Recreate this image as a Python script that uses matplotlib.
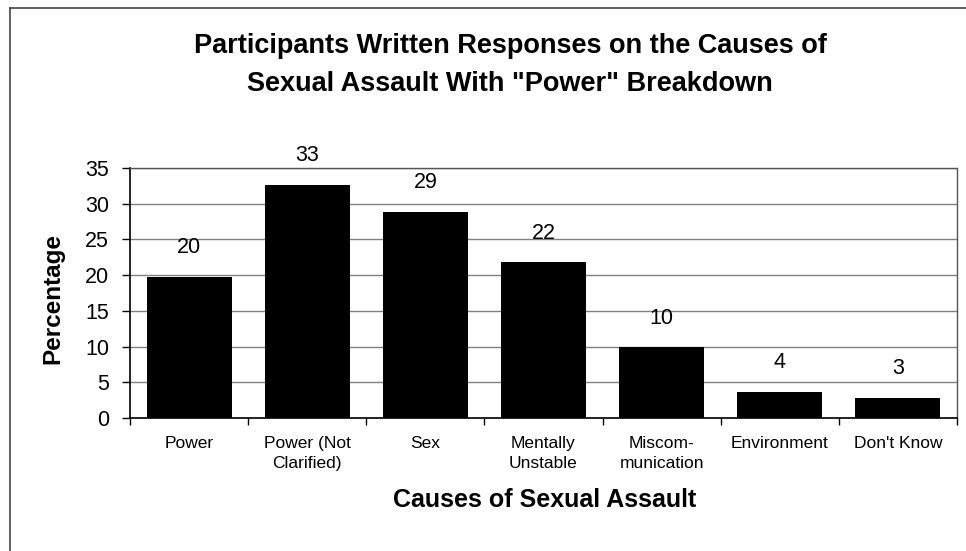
import matplotlib
matplotlib.use("Agg")
import matplotlib.pyplot as plt
from matplotlib.lines import Line2D

plt.rcParams['font.family'] = ['Liberation Sans', 'DejaVu Sans']

categories = ["Power", "Power (Not\nClarified)", "Sex", "Mentally\nUnstable",
              "Miscom-\nmunication", "Environment", "Don't Know"]
values = [19.8, 32.6, 28.9, 21.8, 9.9, 3.7, 2.8]
value_labels = ["20", "33", "29", "22", "10", "4", "3"]
yticks = [0, 5, 10, 15, 20, 25, 30, 35]

W, H = 966, 551
fig = plt.figure(figsize=(W / 100, H / 100), dpi=100)
ax = fig.add_axes([130 / W, 1 - 418 / H, (957 - 130) / W, (418 - 168) / H])

x = list(range(len(categories)))
ax.bar(x, values, width=0.72, color='black', zorder=3)
for xi, v, lab in zip(x, values, value_labels):
    ax.annotate(lab, (xi, v), xytext=(0, 21), textcoords='offset points',
                ha='center', va='center', fontsize=15.5, zorder=4)

ax.set_xlim(-0.5, len(categories) - 0.5)
ax.set_ylim(0, 35)
ax.set_yticks(yticks)
ax.set_yticklabels([str(t) for t in yticks], fontsize=15.5)
ax.set_xticks(x)
ax.set_xticklabels(categories, fontsize=12.5, linespacing=1.45)
ax.set_xticks([i - 0.5 for i in range(len(categories) + 1)], minor=True)
ax.tick_params(axis='x', which='major', length=0, pad=13)
ax.tick_params(axis='x', which='minor', length=5, direction='out', width=1)
ax.tick_params(axis='y', length=6, direction='out', width=1, pad=9)

ax.grid(axis='y', color='#808080', linewidth=1, zorder=0)
for s in ['left', 'bottom']:
    ax.spines[s].set_color('black')
    ax.spines[s].set_linewidth(1.2)
for s in ['top', 'right']:
    ax.spines[s].set_color('#555555')
    ax.spines[s].set_linewidth(1)
    ax.spines[s].set_linestyle((0, (1, 1)))

ax.set_ylabel("Percentage", fontsize=17.5, fontweight='bold', va='center')
ax.yaxis.set_label_coords((53 - 130) / 827, 0.48)
ax.set_xlabel("Causes of Sexual Assault", fontsize=18, fontweight='bold', va='center')
ax.xaxis.set_label_coords((545 - 130) / 827, (418 - 500) / 250)

fig.text(510 / W, 1 - 65 / H,
         "Participants Written Responses on the Causes of\nSexual Assault With \"Power\" Breakdown",
         ha='center', va='center', fontsize=19.5, fontweight='bold', linespacing=1.6)

# page frame (left and top edges)
fig.add_artist(Line2D([10 / W, 10 / W], [0, 1 - 8 / H], transform=fig.transFigure,
                      color='#444444', linewidth=1.2))
fig.add_artist(Line2D([10 / W, 1], [1 - 8 / H, 1 - 8 / H], transform=fig.transFigure,
                      color='#444444', linewidth=1.2))

fig.savefig("out.png", dpi=100)
